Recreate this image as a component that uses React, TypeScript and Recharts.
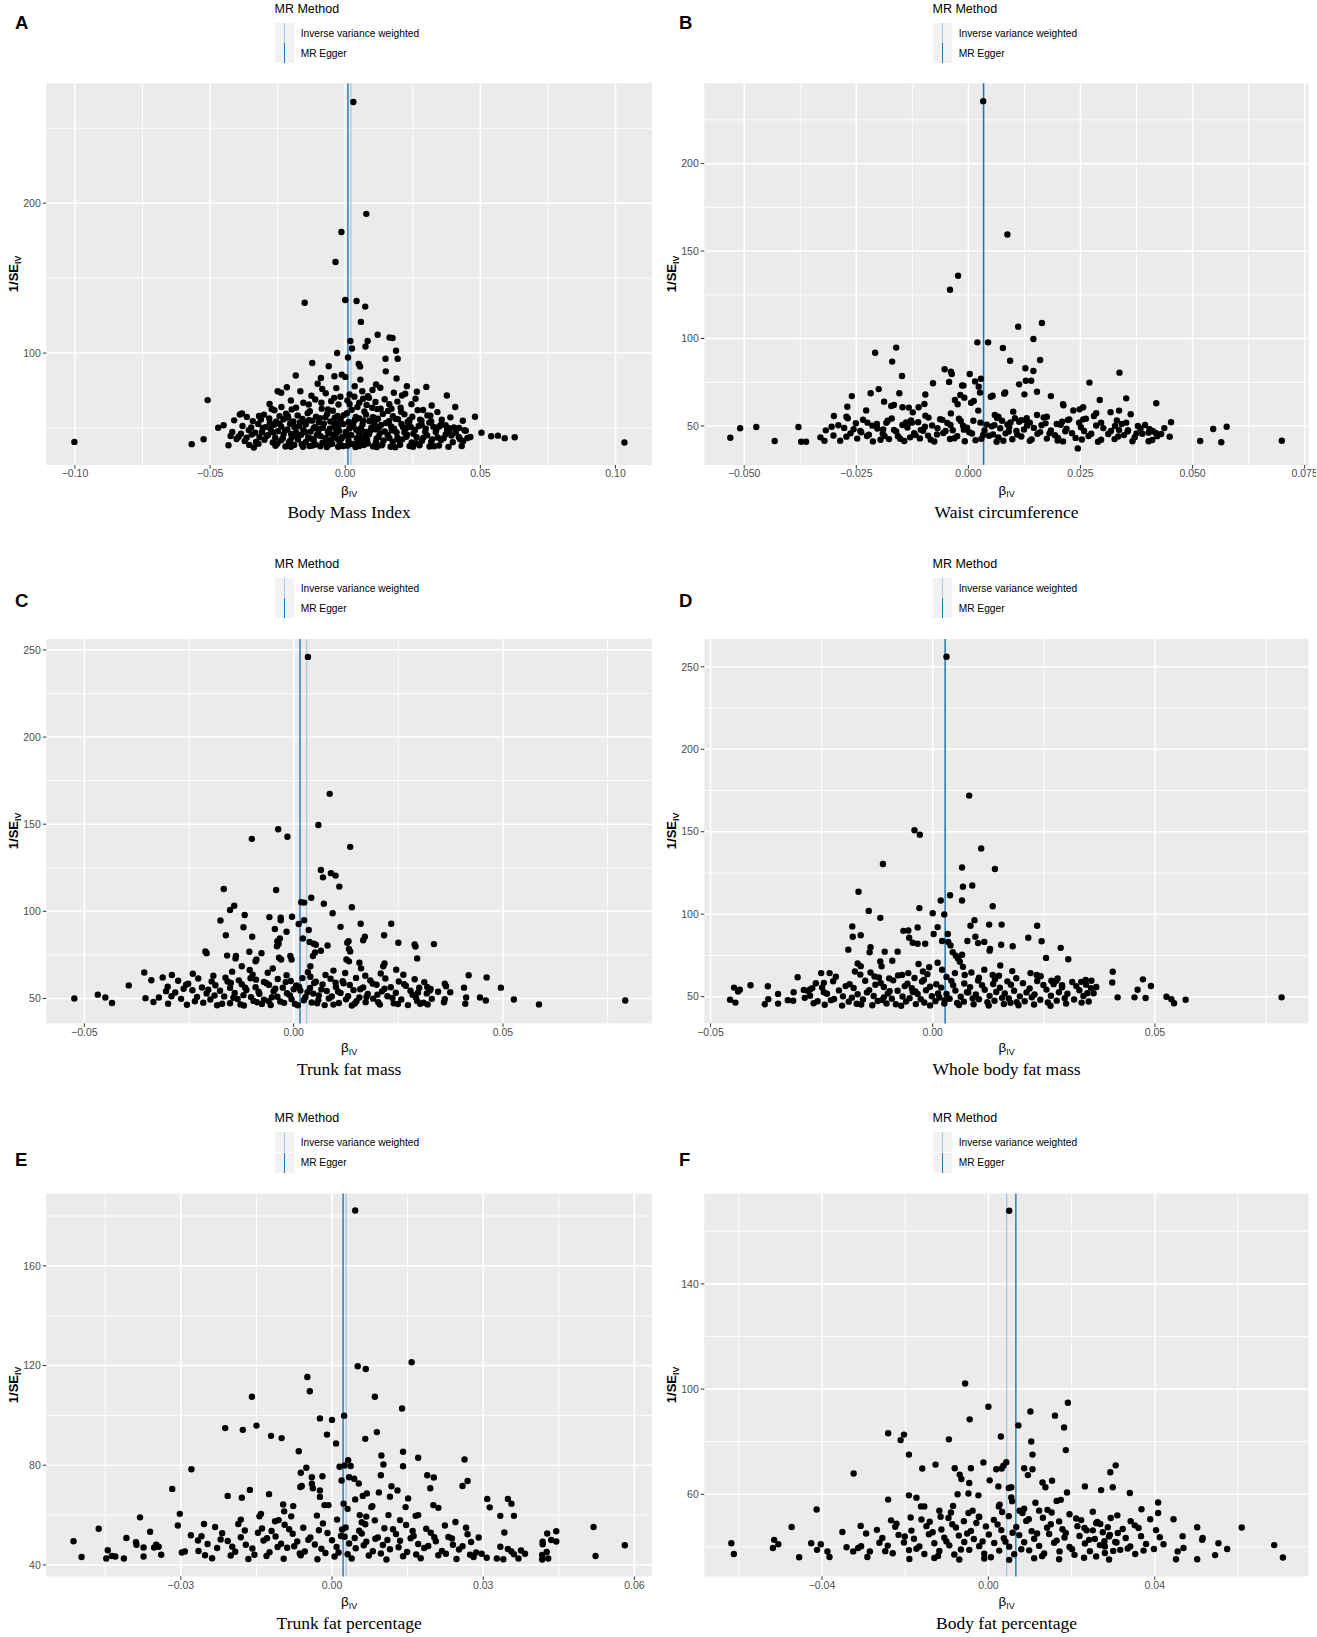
import React from "react";
import {
  CartesianGrid,
  ReferenceLine,
  Scatter,
  ScatterChart,
  XAxis,
  YAxis,
} from "recharts";

type Pt = [number, number];

const panelLetters = ["A", "B", "C", "D", "E", "F"];
const panelTitles = [
  "Body Mass Index",
  "Waist circumference",
  "Trunk fat mass",
  "Whole body fat mass",
  "Trunk fat percentage",
  "Body fat percentage",
];
const methodNames = ["Inverse variance weighted", "MR Egger"];
const methodColors = ["#A6CEE3", "#1F78B4"];

// [IVW, MR Egger] estimates (vertical lines)
const bmiEstimates = [0.0021, 0.001];
const waistEstimates = [0.0033, 0.0034];
const trunkMassEstimates = [0.0031, 0.0015];
const bodyMassEstimates = [0.0028, 0.0028];
const trunkPctEstimates = [0.0028, 0.0022];
const bodyPctEstimates = [0.0044, 0.0066];

// axes
const bmiX = { domain: [-0.1106, 0.1135], ticks: [-0.1, -0.05, 0, 0.05, 0.1], minor: [-0.075, -0.025, 0.025, 0.075] };
const bmiY = { domain: [25.3, 280], ticks: [100, 200], minor: [50, 150, 250] };
const waistX = { domain: [-0.0589, 0.0759], ticks: [-0.05, -0.025, 0, 0.025, 0.05, 0.075], minor: [-0.0375, -0.0125, 0.0125, 0.0375, 0.0625] };
const waistY = { domain: [27.7, 245.9], ticks: [50, 100, 150, 200], minor: [75, 125, 175, 225] };
const trunkMassX = { domain: [-0.0591, 0.0856], ticks: [-0.05, 0, 0.05], minor: [-0.025, 0.025, 0.075] };
const trunkMassY = { domain: [35.7, 256.2], ticks: [50, 100, 150, 200, 250], minor: [75, 125, 175, 225] };
const bodyMassX = { domain: [-0.0514, 0.0846], ticks: [-0.05, 0, 0.05], minor: [-0.025, 0.025, 0.075] };
const bodyMassY = { domain: [33.8, 266.8], ticks: [50, 100, 150, 200, 250], minor: [75, 125, 175, 225] };
const trunkPctX = { domain: [-0.0567, 0.0635], ticks: [-0.03, 0, 0.03, 0.06], minor: [-0.045, -0.015, 0.015, 0.045] };
const trunkPctY = { domain: [35.4, 189], ticks: [40, 80, 120, 160], minor: [60, 100, 140, 180] };
const bodyPctX = { domain: [-0.0683, 0.077], ticks: [-0.04, 0, 0.04], minor: [-0.06, -0.02, 0.02, 0.06] };
const bodyPctY = { domain: [28.8, 174.3], ticks: [60, 100, 140], minor: [40, 80, 120, 160] };
const xDecimals = [2, 3, 2, 2, 2, 2];

// beta_IV, 1/SE_IV
const bmiPoints: Pt[] = [
  [0.003, 267.5], [0.0078, 192.9], [-0.0014, 180.8], [-0.0036, 160.8], [-0.015, 133.6], [0.0, 135.4], [0.0042, 134.7], [0.0074, 131.0],
  [0.0058, 120.8], [0.012, 112.2], [0.0164, 110.4], [0.0175, 110.0], [0.0019, 108.0], [0.0083, 108.0], [0.0025, 103.0], [0.0075, 104.4],
  [0.0188, 101.5], [-0.003, 100.0], [0.001, 97.0], [0.0149, 96.2], [0.0194, 96.2], [-0.0122, 93.4], [0.005, 92.7], [0.0055, 91.0],
  [-0.0061, 91.2], [0.015, 87.8], [-0.0183, 85.0], [-0.009, 83.4], [-0.004, 84.5], [-0.0013, 85.6], [0.0, 84.1], [0.0056, 82.3],
  [0.019, 83.0], [0.0114, 79.0], [0.013, 76.8], [0.0228, 77.9], [0.03, 77.4], [-0.025, 74.5], [-0.0237, 73.5], [-0.0216, 77.2],
  [-0.0166, 74.5], [-0.0085, 76.0], [-0.0033, 76.6], [0.0063, 74.5], [0.0084, 71.2], [0.018, 73.5], [0.0222, 72.8], [0.0376, 71.7],
  [-0.0509, 68.6], [-0.028, 66.0], [0.0407, 64.0], [0.032, 65.0], [0.026, 69.5], [-0.039, 59.0], [-0.0382, 59.7], [0.048, 57.5],
  [-0.047, 50.2], [-0.045, 51.8], [0.0504, 46.9], [0.054, 44.5], [0.0565, 44.9], [0.059, 43.2], [0.0627, 43.8], [-0.1002, 40.7],
  [0.1033, 40.3], [-0.0568, 39.2], [-0.0524, 42.5], [-0.0424, 44.7], [-0.0432, 38.5], [-0.0338, 37.0],
  [-0.0135, 65.7], [-0.0111, 69.0], [-0.0088, 66.8], [-0.0064, 62.4], [-0.0041, 70.1], [-0.0025, 65.7], [0.0016, 72.3], [0.0016, 66.0],
  [0.0045, 64.0], [0.0066, 69.5], [0.0088, 70.1], [0.01, 63.5], [0.0131, 62.8], [0.0171, 62.8], [0.0205, 63.5], [-0.0182, 63.5],
  [-0.0213, 58.0], [-0.0236, 64.0], [-0.0319, 58.0], [0.021, 71.7], [0.0238, 55.3], [0.0282, 54.9], [0.0315, 58.2], [0.0288, 62.0],
  [0.0355, 52.4], [0.0382, 50.0], [0.0421, 50.0], [0.0441, 48.5], [0.0463, 44.0],
  [-0.0155, 66.8], [-0.0125, 71.5], [-0.0072, 73.2], [-0.0052, 67.9], [-0.0018, 70.8], [0.0008, 68.4], [0.0034, 70.9], [0.0052, 66.9],
  [0.0079, 65.4], [0.0112, 67.3], [0.0146, 69.2], [0.0163, 65.8], [0.0193, 67.6], [0.0245, 65.9], [-0.0201, 68.3], [-0.0272, 62.7],
  [0.0035, 77.8], [-0.0102, 79.5], [0.0101, 75.3], [0.0265, 74.2],
  [-0.0262, 61.8], [-0.0198, 62.4], [-0.0131, 61.2], [-0.0087, 62.9], [-0.0046, 61.5], [0.0024, 62.2], [0.0071, 61.0], [0.0118, 62.6],
  [0.0158, 61.4], [0.0207, 60.8], [0.0268, 61.9], [0.0341, 60.6],
  [-0.0364, 57.4], [-0.0301, 58.8], [-0.0243, 57.9], [-0.0219, 59.6], [-0.0176, 58.3], [-0.0139, 59.9], [-0.0108, 57.6], [-0.0067, 59.2],
  [-0.0028, 58.0], [0.0006, 59.8], [0.0039, 57.3], [0.0077, 58.9], [0.0102, 57.2], [0.0139, 59.4], [0.0176, 57.8], [0.0219, 59.1],
  [0.0248, 57.5], [0.0304, 58.4], [0.0389, 57.1],
  [-0.0411, 55.1], [-0.0342, 54.6], [-0.0281, 56.3], [-0.0256, 54.2], [-0.0228, 55.8], [-0.0192, 54.4], [-0.0158, 56.1], [-0.0122, 54.9],
  [-0.0094, 56.6], [-0.0055, 54.3], [-0.0017, 55.9], [0.0013, 54.1], [0.0052, 56.4], [0.0089, 54.7], [0.0121, 56.2], [0.0162, 54.5],
  [0.0195, 55.9], [0.0231, 54.0], [0.0277, 55.6], [0.0318, 54.3], [0.0357, 55.5], [0.0435, 54.8],
  [-0.038, 51.3], [-0.0322, 52.7], [-0.0295, 50.6], [-0.0263, 52.2], [-0.0237, 50.9], [-0.0204, 52.8], [-0.0171, 51.1], [-0.0146, 52.4],
  [-0.0113, 50.5], [-0.0079, 52.9], [-0.0041, 51.2], [-0.0006, 52.6], [0.003, 50.8], [0.0064, 52.3], [0.0097, 50.4], [0.0133, 52.1],
  [0.017, 51.0], [0.0208, 52.7], [0.0243, 50.6], [0.0283, 52.0], [0.0326, 50.9], [0.0371, 51.8], [0.0402, 50.3],
  [-0.0418, 47.3], [-0.0357, 48.6], [-0.0308, 47.4], [-0.0276, 49.4], [-0.0249, 47.8], [-0.0214, 49.1], [-0.0182, 47.2], [-0.0155, 48.9],
  [-0.0128, 47.6], [-0.0097, 49.3], [-0.0064, 47.5], [-0.0033, 49.0], [0.0002, 47.3], [0.0041, 48.8], [0.0074, 47.4], [0.011, 49.2],
  [0.0146, 47.7], [0.0181, 49.5], [0.0219, 47.2], [0.0258, 48.7], [0.0296, 47.5], [0.0337, 49.0], [0.0385, 47.8], [0.0446, 48.2],
  [-0.0395, 44.2], [-0.0346, 45.6], [-0.0317, 43.8], [-0.0286, 45.3], [-0.0259, 43.5], [-0.0228, 45.8], [-0.0197, 44.0], [-0.0163, 45.5],
  [-0.0137, 43.7], [-0.0105, 45.2], [-0.0073, 43.4], [-0.0043, 45.7], [-0.0011, 44.1], [0.0022, 45.4], [0.0056, 43.6], [0.0088, 45.9],
  [0.0123, 44.0], [0.0157, 45.3], [0.0193, 43.5], [0.0229, 45.6], [0.0264, 43.9], [0.0303, 45.1], [0.0342, 43.7], [0.0372, 45.8],
  [0.042, 44.0], [0.0452, 43.3],
  [-0.0372, 41.3], [-0.033, 40.6], [-0.0299, 42.1], [-0.0268, 40.3], [-0.0237, 41.8], [-0.0208, 40.5], [-0.0175, 42.3], [-0.0146, 40.7],
  [-0.0117, 41.9], [-0.0084, 40.2], [-0.0052, 42.0], [-0.0021, 40.6], [0.0012, 41.7], [0.0046, 40.1], [0.0081, 42.2], [0.0113, 40.4],
  [0.0142, 41.6], [0.0176, 40.8], [0.0211, 42.4], [0.0246, 40.3], [0.0284, 41.5], [0.0318, 40.9], [0.0355, 42.0], [0.0398, 40.5],
  [0.0436, 41.2],
  [-0.0258, 38.1], [-0.0221, 37.6], [-0.0189, 38.7], [-0.0156, 37.4], [-0.0121, 38.3], [-0.0092, 37.8], [-0.0059, 38.9], [-0.0026, 37.5],
  [0.0008, 38.2], [0.0038, 37.3], [0.0069, 38.6], [0.0103, 37.7], [0.0135, 38.4], [0.0168, 37.5], [0.0203, 38.8], [0.0238, 37.9],
  [0.0275, 38.5], [0.0312, 37.6], [0.0347, 38.3], [0.0382, 37.4], [0.0431, 38.0],
  [-0.006, 46.3], [-0.0022, 48.1], [0.0015, 49.6], [0.0051, 46.9], [0.003, 53.5], [-0.0035, 53.2], [0.0108, 53.4], [-0.01, 46.4],
  [0.0128, 46.5], [0.006, 41.2], [-0.003, 43.0], [0.019, 47.0], [-0.015, 53.5], [0.0225, 49.8], [-0.02, 46.0],
  [-0.0348, 50.4], [-0.0333, 46.9], [-0.0312, 55.7], [-0.0291, 44.6], [-0.0279, 53.5], [-0.0266, 47.1], [-0.0251, 39.7], [-0.0243, 52.9],
  [-0.0231, 43.1], [-0.0222, 48.4], [-0.0211, 56.9], [-0.0203, 41.6], [-0.0188, 50.7], [-0.0179, 45.1], [-0.0168, 53.7], [-0.0161, 39.2],
  [-0.0149, 47.3], [-0.0134, 55.2], [-0.0126, 42.8], [-0.0117, 49.8], [-0.0109, 38.9], [-0.0098, 53.8], [-0.0091, 44.6], [-0.0083, 50.1],
  [-0.0074, 57.1], [-0.0066, 41.3], [-0.0057, 49.6], [-0.0048, 39.4], [-0.0039, 56.9], [-0.0031, 47.0], [-0.0024, 51.8], [-0.0014, 42.9],
  [-0.0005, 58.6], [0.0004, 45.1], [0.0019, 51.3], [0.0027, 39.3], [0.0036, 55.4], [0.0043, 43.2], [0.0058, 49.9], [0.0066, 54.9],
  [0.0072, 44.4], [0.0083, 39.6], [0.0093, 48.3], [0.0106, 56.9], [0.0116, 42.9], [0.0126, 50.7], [0.0137, 39.1], [0.0151, 53.3],
  [0.0163, 43.3], [0.0172, 48.4], [0.0186, 56.1], [0.0198, 41.9], [0.0214, 50.5], [0.0226, 44.2], [0.0236, 53.1], [0.0252, 46.2],
  [0.0262, 39.8], [0.0272, 51.3], [0.0289, 43.6], [0.0298, 49.6], [0.0311, 53.6], [0.0322, 42.3], [0.0335, 47.3], [0.0348, 51.0],
  [0.0364, 43.2], [0.0377, 49.1], [0.0393, 45.0], [0.0409, 47.0], [0.0425, 42.5], [-0.0386, 46.2], [-0.0402, 42.6], [-0.0365, 43.5],
  [-0.0355, 38.7], [-0.0321, 39.4], [-0.0305, 50.1], [0.0117, 37.3], [0.0052, 37.9], [-0.0008, 38.0], [-0.0068, 37.3], [-0.0132, 37.9],
  [-0.0201, 37.4], [0.0185, 37.2], [0.0251, 37.5], [0.0329, 37.8],
];

const waistPoints: Pt[] = [
  [0.0033, 235.7], [0.0087, 159.5], [-0.0023, 135.9], [-0.0041, 127.9], [0.0164, 108.9], [0.0111, 106.8], [0.0145, 99.7], [0.002, 97.8],
  [0.0044, 97.8], [0.0077, 94.6], [-0.0161, 94.8], [-0.0208, 91.9], [-0.017, 86.8], [0.016, 87.7], [0.0093, 87.3], [-0.0053, 82.4],
  [-0.0039, 81.0], [-0.0037, 79.7], [0.0127, 83.0], [0.0145, 81.4], [0.0337, 80.5], [0.0003, 79.7], [-0.0148, 78.6], [0.0128, 75.9],
  [0.014, 75.9], [0.0028, 77.0], [0.027, 74.8], [-0.0079, 74.4], [0.0015, 75.5], [-0.0043, 75.2], [-0.0014, 73.2], [-0.0011, 73.1],
  [0.0023, 72.5], [0.0113, 73.8], [-0.02, 71.1], [0.0153, 69.6], [-0.0154, 68.7], [0.008, 68.5], [0.0082, 69.2], [0.0125, 68.1],
  [-0.0218, 68.7], [-0.026, 67.1], [-0.0096, 68.0], [-0.0018, 67.7], [0.0054, 67.3], [0.005, 66.7], [0.0184, 67.1], [0.0293, 64.9],
  [0.0352, 65.8], [-0.0188, 63.9], [0.0419, 63.0], [0.0211, 62.5], [0.0212, 61.8], [-0.027, 61.0], [-0.0172, 61.4], [-0.0166, 62.0],
  [-0.0133, 60.5], [0.0336, 58.8], [0.0317, 57.9], [0.0234, 58.9], [0.0248, 59.5], [0.0256, 60.7], [-0.0228, 58.9], [0.0362, 56.7],
  [-0.03, 55.7], [-0.0272, 55.3], [-0.0269, 54.4], [0.0285, 57.3], [0.0244, 37.2], [-0.0531, 43.3], [-0.0509, 48.7], [-0.0473, 49.4],
  [-0.0432, 41.4], [-0.0379, 49.4], [-0.0373, 41.0], [-0.0362, 41.0], [-0.033, 43.5], [0.0517, 41.4], [0.0546, 48.3], [0.0564, 40.7],
  [0.0576, 49.6], [0.0699, 41.6], [0.0452, 52.1], [0.0449, 43.9], [0.0437, 48.8],
  [-0.003, 64.9], [-0.0024, 62.4], [-0.0039, 57.2], [-0.0009, 66.2], [0.0006, 63.3], [0.0012, 64.3], [0.0026, 69.1], [0.0022, 58.8],
  [-0.0111, 60.7], [-0.0124, 57.8], [-0.0098, 62.6], [-0.0096, 55.9], [-0.0147, 60.7], [-0.0126, 51.9], [-0.0204, 51.1], [-0.0225, 51.9],
  [-0.018, 53.0], [0.0059, 56.3], [0.0067, 55.3], [0.0075, 53.0], [0.01, 58.2], [0.0104, 54.4], [0.0113, 52.4], [0.013, 54.4],
  [0.0137, 51.9], [0.0153, 56.3], [0.0175, 55.3], [0.0197, 51.1], [0.0209, 52.4], [0.0225, 53.8], [0.0256, 53.8], [0.028, 55.7],
  [0.0296, 51.9], [0.0327, 50.0], [0.0336, 47.7], [0.0352, 51.9], [0.0355, 46.8], [0.0375, 45.8], [0.0378, 50.0], [0.0402, 46.2],
  [0.0411, 47.1], [0.043, 45.4],
  [-0.0235, 53.6], [-0.0171, 54.3], [-0.0128, 53.2], [-0.0089, 54.8], [-0.0058, 53.5], [-0.0021, 54.1], [0.0011, 53.0], [0.0064, 54.6],
  [0.0118, 53.3], [0.0168, 54.9], [0.0222, 53.4], [0.0262, 54.2], [0.0331, 53.1],
  [-0.029, 50.4], [-0.0251, 51.6], [-0.0214, 50.2], [-0.0183, 51.8], [-0.0147, 50.6], [-0.0112, 52.1], [-0.0081, 50.3], [-0.0047, 51.7],
  [-0.0012, 50.1], [0.0027, 51.9], [0.0058, 50.5], [0.0094, 52.0], [0.0131, 50.2], [0.0172, 51.5], [0.0206, 50.7], [0.0247, 51.9],
  [0.0285, 50.3], [0.0342, 51.2], [0.0394, 50.6],
  [-0.0318, 47.5], [-0.0277, 48.9], [-0.0241, 47.2], [-0.0203, 48.6], [-0.0166, 47.8], [-0.0136, 49.1], [-0.0101, 47.3], [-0.0069, 48.8],
  [-0.0035, 47.6], [-0.0003, 49.0], [0.0036, 47.4], [0.0071, 48.7], [0.0107, 47.2], [0.0146, 48.9], [0.0184, 47.5], [0.0219, 48.4],
  [0.0258, 47.1], [0.0301, 48.8], [0.0356, 47.6], [0.0404, 48.1],
  [-0.0301, 44.6], [-0.0263, 45.8], [-0.0226, 44.3], [-0.0191, 45.6], [-0.0157, 44.1], [-0.0121, 45.9], [-0.009, 44.5], [-0.0056, 46.0],
  [-0.0025, 44.2], [0.0008, 45.7], [0.0046, 44.4], [0.0083, 45.8], [0.0118, 44.0], [0.0154, 45.5], [0.0193, 44.7], [0.0231, 45.9],
  [0.0268, 44.3], [0.0312, 45.4], [0.0347, 44.8], [0.0388, 45.6], [0.0421, 44.2],
  [-0.0286, 41.6], [-0.0248, 42.8], [-0.0213, 41.2], [-0.0177, 42.5], [-0.0143, 41.4], [-0.0108, 42.9], [-0.0076, 41.1], [-0.0041, 42.6],
  [-0.0008, 41.3], [0.0029, 42.7], [0.0063, 41.0], [0.0098, 42.4], [0.0137, 41.5], [0.0175, 42.8], [0.0211, 41.2], [0.0253, 42.3],
  [0.0289, 41.0], [0.0326, 42.5], [0.0366, 41.3], [0.041, 42.0],
  [-0.001, 47.9], [0.0052, 49.8], [-0.013, 43.5], [0.016, 46.5], [0.009, 46.9], [-0.007, 45.2], [0.02, 43.2], [-0.019, 48.0],
  [0.013, 52.8], [-0.004, 50.6],
  [-0.0272, 43.9], [-0.0239, 46.4], [-0.0196, 42.1], [-0.0161, 46.9], [-0.0139, 52.0], [-0.0118, 44.8], [-0.0097, 49.6], [-0.0084, 42.2],
  [-0.0063, 53.9], [-0.0051, 47.1], [-0.0031, 43.0], [-0.0017, 52.9], [0.0002, 46.4], [0.0016, 41.9], [0.0041, 50.8], [0.0055, 45.2],
  [0.0078, 41.6], [0.0087, 50.9], [0.0109, 45.1], [0.0124, 48.0], [0.0141, 42.3], [0.0163, 50.4], [0.0181, 45.8], [0.0199, 41.7],
  [0.0216, 47.0], [0.0239, 43.2], [0.0251, 49.3], [0.0274, 45.6], [0.0296, 42.1], [0.0318, 47.1], [0.0334, 44.0], [0.0371, 43.6],
  [0.0384, 48.6], [0.0402, 41.3], [0.0418, 46.0], [-0.0305, 49.6], [-0.0321, 41.5], [-0.0256, 48.1], [-0.0187, 44.3], [-0.0152, 42.7],
  [0.0067, 43.5], [0.0091, 49.4], [0.0033, 44.9], [-0.0106, 47.8], [-0.0222, 45.0],
];

const trunkMassPoints: Pt[] = [
  [0.0034, 246.0], [0.0086, 167.4], [0.0059, 149.5], [-0.0037, 147.1], [-0.0015, 142.8], [-0.01, 141.6], [0.0135, 137.0], [0.0065, 123.7],
  [0.0089, 121.9], [0.01, 120.5], [0.007, 119.5], [0.0109, 114.2], [-0.0167, 112.8], [-0.0042, 112.2], [0.0042, 107.8], [0.0018, 105.2],
  [0.0025, 105.0], [0.0072, 104.4], [-0.0142, 103.2], [-0.0152, 100.8], [0.0139, 102.4], [0.0093, 98.9], [-0.0117, 97.9], [-0.0175, 94.7],
  [-0.0058, 96.7], [-0.0031, 96.3], [-0.0031, 94.9], [-0.0004, 96.9], [0.0012, 92.7], [0.0025, 94.9], [0.016, 92.9], [0.0233, 92.9],
  [0.0112, 91.1], [-0.012, 90.9], [-0.0045, 89.9], [-0.0017, 88.3], [0.0036, 89.3], [-0.0162, 86.3], [-0.0099, 85.4], [0.0216, 86.3],
  [0.017, 85.4], [0.0166, 83.4], [-0.0039, 82.8], [-0.0036, 81.4], [-0.0033, 84.4], [-0.004, 80.0], [0.0022, 84.4], [0.0038, 82.4],
  [0.0048, 81.4], [0.0053, 80.8], [0.0131, 82.8], [0.0128, 82.0], [0.0335, 81.2], [0.025, 82.0], [0.0289, 81.0], [0.0291, 79.8],
  [0.0081, 80.4], [0.0065, 77.4], [0.0051, 76.4], [0.0046, 74.4], [0.0132, 78.4], [0.0135, 77.0], [-0.0211, 77.0], [-0.0208, 76.0],
  [-0.0106, 76.8], [-0.0077, 76.0], [-0.0089, 72.4], [-0.0091, 71.4], [0.0295, 73.0], [-0.0159, 74.6], [-0.0138, 74.4], [-0.0139, 73.0],
  [-0.0008, 74.4], [-0.0005, 72.4], [-0.0035, 73.4], [-0.003, 72.4], [0.0126, 72.4], [0.0132, 71.3], [0.0157, 70.5], [0.0161, 67.3],
  [0.0217, 70.1], [0.0214, 68.5], [0.0245, 66.5], [-0.0124, 68.5],
  [-0.0357, 64.9], [-0.034, 60.5], [-0.0313, 62.1], [-0.0291, 63.5], [-0.0394, 57.5], [-0.0524, 50.0], [-0.0468, 52.2], [-0.045, 50.6],
  [-0.0434, 47.4], [-0.0354, 50.2], [-0.0335, 48.0], [-0.0322, 50.6], [-0.0305, 54.2], [-0.03, 47.0], [0.0418, 63.3], [0.0461, 62.1],
  [0.0495, 56.2], [0.0526, 49.4], [0.0586, 46.6], [0.0792, 48.8], [0.0407, 56.2], [0.0412, 50.6], [0.041, 47.0], [0.0445, 50.6],
  [0.0459, 48.8], [0.0361, 58.5], [0.0364, 57.0], [0.0374, 53.6], [0.0361, 49.6], [0.0359, 47.8], [0.0319, 56.6], [0.0325, 54.6],
  [0.032, 46.6], [0.0302, 47.0], [0.0295, 48.6],
  [-0.0241, 64.2], [-0.0192, 63.1], [-0.0147, 65.4], [-0.0098, 63.7], [-0.0062, 64.8], [-0.0017, 63.3], [0.0034, 65.1], [0.0076, 63.5],
  [0.0123, 64.6], [0.0171, 63.0], [0.0208, 64.3], [0.0262, 63.6],
  [-0.0276, 60.2], [-0.0228, 61.5], [-0.0196, 59.8], [-0.0163, 61.9], [-0.0131, 60.4], [-0.0103, 61.6], [-0.0071, 59.5], [-0.0038, 61.2],
  [-0.0007, 60.0], [0.0021, 61.7], [0.0053, 59.6], [0.0088, 61.3], [0.0117, 59.9], [0.0149, 61.8], [0.0183, 60.3], [0.0219, 61.5],
  [0.0251, 59.7], [0.0289, 61.0], [0.0312, 59.4],
  [-0.0301, 56.8], [-0.0257, 57.9], [-0.0219, 56.3], [-0.0187, 57.6], [-0.0152, 56.1], [-0.0124, 58.2], [-0.0091, 56.5], [-0.0059, 57.8],
  [-0.0026, 56.2], [0.0006, 57.5], [0.0039, 56.0], [0.0069, 58.1], [0.0101, 56.6], [0.0134, 57.7], [0.0166, 56.3], [0.0198, 57.9],
  [0.0232, 56.4], [0.0268, 57.3], [0.03, 56.2],
  [-0.0283, 53.4], [-0.0242, 54.7], [-0.0208, 52.9], [-0.0176, 54.4], [-0.0141, 53.1], [-0.0113, 54.9], [-0.0082, 52.7], [-0.0048, 54.2],
  [-0.0016, 53.0], [0.0016, 54.6], [0.0047, 52.8], [0.0079, 54.3], [0.0112, 53.2], [0.0143, 54.8], [0.0177, 52.6], [0.0211, 54.1],
  [0.0244, 53.3], [0.0279, 54.5], [0.0318, 52.9], [0.0345, 53.9],
  [-0.0269, 49.8], [-0.0231, 50.9], [-0.0199, 49.4], [-0.0166, 51.2], [-0.0134, 49.7], [-0.0102, 50.8], [-0.0071, 49.3], [-0.0039, 51.0],
  [-0.0005, 49.6], [0.0028, 50.7], [0.0059, 49.2], [0.0091, 51.1], [0.0125, 49.5], [0.0157, 50.6], [0.019, 49.9], [0.0224, 51.3],
  [0.0257, 49.4], [0.0292, 50.5], [0.033, 49.8],
  [-0.0255, 46.4], [-0.0216, 47.6], [-0.0183, 46.1], [-0.0152, 47.3], [-0.0119, 46.0], [-0.0088, 47.8], [-0.0055, 46.3], [-0.0023, 47.5],
  [0.001, 46.1], [0.0043, 47.7], [0.0074, 46.2], [0.0108, 47.4], [0.0139, 46.0], [0.0172, 47.9], [0.0206, 46.5], [0.0239, 47.2],
  [0.0273, 46.2], [0.031, 47.6],
  [-0.006, 48.5], [0.0, 55.3], [0.006, 51.8], [-0.012, 51.9], [0.01, 59.0], [-0.009, 60.8], [0.015, 48.4], [0.004, 62.5],
  [-0.015, 58.9], [0.02, 52.2],
  [-0.0252, 58.5], [-0.0236, 48.4], [-0.0204, 55.0], [-0.0189, 51.7], [-0.0171, 47.0], [-0.0158, 59.7], [-0.0144, 50.4], [-0.0127, 46.6],
  [-0.0116, 56.2], [-0.0096, 48.6], [-0.0084, 53.9], [-0.0076, 46.9], [-0.0065, 58.8], [-0.0052, 50.7], [-0.0044, 55.6], [-0.0032, 48.3],
  [-0.0019, 59.4], [-0.0009, 51.8], [0.0003, 46.8], [0.0013, 56.6], [0.0024, 49.0], [0.0033, 53.6], [0.0049, 58.9], [0.0056, 47.3],
  [0.0066, 55.2], [0.0084, 50.0], [0.0095, 46.5], [0.0106, 54.0], [0.0119, 58.7], [0.013, 51.3], [0.0146, 47.1], [0.0159, 55.3],
  [0.0174, 50.9], [0.0189, 58.5], [0.0202, 47.8], [0.0217, 55.6], [0.0236, 50.3], [0.0249, 46.8], [0.0264, 58.2], [0.0284, 52.1],
  [-0.0292, 51.3], [-0.0263, 55.6], [0.0297, 53.4], [0.0327, 55.4], [0.004, 68.5], [-0.005, 67.2], [0.0095, 66.0], [-0.0105, 66.4],
];

const bodyMassPoints: Pt[] = [
  [0.0031, 256.1], [0.0082, 171.9], [-0.0041, 150.9], [-0.0029, 148.2], [0.0109, 139.8], [-0.0112, 130.4], [0.0066, 128.3], [0.014, 127.4],
  [0.0089, 117.4], [0.0068, 116.7], [-0.0167, 113.6], [0.0039, 111.5], [0.0066, 108.3], [0.0018, 108.3], [0.0135, 104.8], [-0.003, 103.7],
  [-0.0144, 102.0], [-0.0118, 97.8], [0.0, 100.6], [0.0026, 99.9], [0.0235, 93.0], [0.0155, 93.7], [0.0127, 93.7], [-0.0181, 92.6],
  [-0.0034, 92.0], [0.0011, 92.2], [0.0085, 93.0], [0.0094, 96.4], [-0.0066, 89.9], [-0.0055, 90.1], [0.0002, 88.0], [0.0034, 88.0],
  [-0.018, 86.3], [-0.0162, 87.3], [-0.0053, 85.7], [0.0096, 86.3], [0.0102, 82.5], [0.0116, 83.2], [0.0078, 83.8], [0.0215, 85.7],
  [0.0245, 83.6], [0.0021, 83.8], [0.0035, 83.2], [0.004, 81.1], [-0.0045, 82.7], [-0.0034, 82.1], [-0.0017, 82.1], [-0.014, 80.0],
  [-0.0142, 76.9], [0.0154, 81.5], [0.018, 80.6], [-0.019, 78.5], [0.0288, 79.6], [0.0129, 79.0], [0.0128, 77.9], [-0.0108, 77.3],
  [-0.0079, 77.3], [0.0045, 76.9], [0.0052, 74.8], [0.0057, 73.1], [0.0066, 75.4], [0.0255, 73.5], [0.0305, 72.7], [-0.0091, 71.8],
  [-0.0118, 71.4], [-0.0169, 70.1], [-0.0162, 68.5], [-0.0175, 65.3], [0.0405, 65.1], [0.0404, 58.6], [0.0473, 60.5], [0.0461, 54.2],
  [0.0491, 56.5], [0.0479, 49.2], [0.0416, 49.6], [0.0454, 49.6], [0.0526, 50.0], [0.0537, 48.5], [0.0543, 46.0], [0.0569, 48.1],
  [0.0785, 49.6], [-0.0456, 48.1], [-0.0447, 55.5], [-0.0444, 46.4], [-0.0438, 53.1], [-0.0434, 54.2], [-0.041, 56.9], [-0.0378, 45.4],
  [-0.0371, 56.3], [-0.037, 48.5], [-0.0348, 51.7], [-0.0348, 45.8], [-0.0326, 47.9], [-0.0314, 47.5], [-0.0313, 52.7], [-0.0304, 61.8],
  [-0.0281, 53.4], [-0.0276, 54.4], [-0.0271, 55.2], [-0.0251, 64.3], [-0.0232, 64.3], [-0.0245, 58.4],
  [0.022, 64.3], [0.0234, 63.2], [0.0267, 59.7], [0.0278, 59.7], [0.0291, 56.9], [0.0334, 59.0], [0.0344, 60.1], [0.0357, 59.7],
  [0.0368, 55.9], [0.0362, 52.1], [0.0011, 70.6], [-0.0008, 67.8], [-0.0022, 65.3], [-0.0069, 63.2], [-0.0055, 64.3], [-0.0098, 61.1],
  [-0.014, 64.7], [-0.0131, 62.2], [0.0068, 68.1], [0.0087, 64.7], [0.0116, 66.4], [0.0135, 63.2],
  [-0.0218, 62.1], [-0.0163, 63.4], [-0.0121, 61.7], [-0.0078, 62.9], [-0.0041, 61.3], [-0.0012, 63.6], [0.0031, 62.0], [0.0072, 63.1],
  [0.0104, 61.5], [0.0149, 62.7], [0.0188, 61.2], [0.0243, 62.4], [0.0281, 61.0],
  [-0.0263, 58.1], [-0.0224, 59.4], [-0.0187, 57.6], [-0.0152, 59.7], [-0.0117, 58.3], [-0.0089, 59.9], [-0.0057, 57.8], [-0.0024, 59.2],
  [0.0008, 57.5], [0.0042, 59.6], [0.0071, 58.0], [0.0102, 59.8], [0.0136, 57.7], [0.0168, 59.3], [0.0203, 58.2], [0.0235, 59.5],
  [0.0272, 57.6], [0.0314, 58.9], [0.0345, 57.3],
  [-0.029, 54.1], [-0.0249, 55.6], [-0.0211, 53.8], [-0.0178, 55.3], [-0.0143, 54.0], [-0.011, 55.9], [-0.0079, 53.6], [-0.0047, 55.1],
  [-0.0015, 53.9], [0.0019, 55.5], [0.0051, 53.7], [0.0084, 55.8], [0.0117, 54.2], [0.0151, 55.4], [0.0183, 53.6], [0.0218, 55.0],
  [0.0256, 54.3], [0.0291, 55.7], [0.033, 53.9], [0.0356, 55.2],
  [-0.0276, 50.6], [-0.0238, 51.8], [-0.0202, 50.2], [-0.0169, 51.5], [-0.0133, 50.4], [-0.0101, 51.9], [-0.0068, 50.1], [-0.0034, 51.6],
  [-0.0002, 50.3], [0.0031, 51.7], [0.0063, 50.0], [0.0097, 51.4], [0.0128, 50.5], [0.0162, 51.9], [0.0196, 50.2], [0.0229, 51.3],
  [0.0266, 50.6], [0.0303, 51.8], [0.0339, 50.4],
  [-0.0259, 47.2], [-0.0222, 48.6], [-0.0189, 47.0], [-0.0157, 48.3], [-0.0124, 47.4], [-0.0092, 48.8], [-0.006, 47.1], [-0.0027, 48.5],
  [0.0006, 47.3], [0.0038, 48.7], [0.007, 47.0], [0.0104, 48.4], [0.0139, 47.5], [0.0171, 48.9], [0.0207, 47.2], [0.0242, 48.1],
  [0.0279, 47.6], [0.0318, 48.3], [0.0351, 47.1],
  [-0.0243, 45.1], [-0.0204, 44.6], [-0.0171, 45.7], [-0.0136, 44.8], [-0.0104, 45.9], [-0.0071, 44.5], [-0.0038, 45.5], [-0.0006, 44.7],
  [0.0026, 45.8], [0.0059, 44.9], [0.0092, 45.4], [0.0126, 44.6], [0.016, 45.6], [0.0193, 44.8], [0.0228, 45.3], [0.0265, 44.5],
  [0.03, 45.8],
  [0.0015, 49.5], [-0.0045, 52.8], [0.008, 52.6], [-0.011, 49.6], [0.014, 60.6], [-0.002, 60.2], [0.005, 64.3], [0.0175, 46.3],
  [-0.0268, 46.0], [-0.0245, 52.7], [-0.0229, 47.9], [-0.0196, 56.4], [-0.0182, 49.4], [-0.0161, 45.3], [-0.0148, 52.6], [-0.0129, 57.2],
  [-0.0114, 48.0], [-0.0097, 53.3], [-0.0083, 45.4], [-0.0063, 56.4], [-0.0052, 49.1], [-0.0039, 53.1], [-0.0019, 46.5], [-0.0006, 56.0],
  [0.0012, 51.9], [0.0027, 47.9], [0.0046, 57.0], [0.0055, 46.2], [0.0077, 52.7], [0.009, 49.0], [0.0111, 57.0], [0.0123, 46.7],
  [0.0143, 52.8], [0.0156, 49.3], [0.0176, 57.2], [0.0189, 46.7], [0.0211, 52.6], [0.0223, 49.7], [0.0249, 57.1], [0.0259, 46.5],
  [0.0284, 52.7], [0.0297, 49.1], [0.0323, 56.4], [0.0335, 46.4], [0.0348, 52.1], [-0.0288, 49.3], [0.0021, 66.3], [-0.0032, 69.8],
  [0.0061, 71.2], [0.0152, 68.9], [-0.0115, 68.4], [0.0179, 65.5],
];

const trunkPctPoints: Pt[] = [
  [0.0046, 182.2], [0.0158, 121.3], [0.0051, 119.7], [0.0067, 118.6], [-0.0049, 115.4], [-0.0044, 109.7], [-0.0159, 107.5], [0.0085, 107.5],
  [0.0139, 102.8], [0.0024, 99.9], [-0.0024, 98.8], [0.0, 98.2], [-0.0212, 94.9], [-0.015, 95.9], [-0.0177, 94.2], [0.0089, 93.3],
  [-0.001, 92.3], [-0.0121, 91.8], [-0.01, 90.9], [0.0066, 90.6], [0.0008, 88.7], [-0.0066, 85.6], [0.0141, 85.4], [0.0098, 83.9],
  [0.0171, 83.0], [0.0263, 82.3], [0.0032, 82.0], [0.0037, 79.7], [0.0025, 79.9], [0.0102, 80.3], [0.0141, 79.6], [0.0015, 79.4],
  [-0.0051, 79.0], [-0.0062, 77.0], [-0.0279, 78.4], [0.0189, 76.0], [0.0202, 75.1], [0.0097, 76.0], [-0.004, 75.2], [-0.004, 72.6],
  [-0.0038, 70.8], [-0.0019, 75.6], [0.0034, 75.2], [0.0044, 74.6], [0.0053, 72.7], [0.0019, 73.9], [0.0269, 73.7], [0.0259, 71.7],
  [-0.006, 71.7], [-0.0063, 71.3], [0.0118, 71.6], [0.013, 69.9], [-0.0317, 70.5], [-0.0163, 70.1], [-0.0024, 69.9], [-0.0024, 67.3],
  [0.0195, 70.8], [0.0069, 68.7], [0.0061, 67.7], [0.0046, 66.3], [0.0093, 69.1], [-0.0207, 67.7], [-0.0179, 67.0], [-0.0125, 68.4],
  [0.0115, 67.4], [0.0151, 66.7], [0.0308, 66.5], [0.0313, 63.1], [0.0349, 66.5], [0.0356, 64.6], [-0.0097, 64.3], [-0.0077, 63.6],
  [-0.0095, 61.5], [-0.0015, 64.0], [-0.0007, 64.0], [0.0023, 64.6], [0.008, 63.6], [0.0078, 63.2], [0.0031, 62.5], [0.0201, 64.0],
  [0.0211, 62.9], [0.0146, 63.2], [-0.0302, 60.5], [-0.0306, 55.8], [-0.0381, 59.1], [-0.0141, 60.5], [-0.0144, 59.5], [-0.0081, 59.5],
  [-0.0106, 58.0], [-0.0113, 57.5], [0.0055, 60.0], [0.0068, 59.4], [0.0059, 57.1], [0.0112, 60.0], [0.0166, 59.7], [0.0171, 60.0],
  [0.0334, 59.7], [0.0361, 59.7], [-0.028, 51.9], [-0.0254, 56.4], [-0.0463, 54.5], [-0.0361, 53.3], [-0.0513, 49.5], [-0.0497, 43.2],
  [-0.0448, 42.6], [-0.0445, 45.9], [-0.0437, 43.6], [-0.043, 43.4], [-0.0413, 42.6], [-0.0408, 50.8], [-0.0389, 49.1], [-0.0388, 48.1],
  [-0.0374, 47.0], [-0.0374, 43.4], [-0.0353, 47.0], [-0.0349, 48.1], [-0.0344, 47.3], [-0.0339, 44.1], [-0.0298, 45.0], [-0.0292, 45.4],
  [0.0519, 55.2], [0.0523, 43.6], [0.0581, 47.9], [0.0418, 48.3], [0.0418, 49.3], [0.0417, 44.0], [0.0417, 42.2], [0.0426, 45.2],
  [0.0429, 42.6], [0.0427, 52.6], [0.0435, 50.0], [0.0445, 53.5], [0.0445, 49.4], [0.0297, 44.5], [0.0307, 42.9], [0.0327, 42.6],
  [0.0334, 47.3], [0.0342, 53.0], [0.034, 42.3], [0.0349, 46.4], [0.0356, 45.4], [0.0361, 44.3], [0.037, 42.6], [0.0375, 45.8],
  [0.0383, 44.5],
  [-0.0232, 55.2], [-0.0186, 56.4], [-0.0139, 54.6], [-0.0094, 56.1], [-0.0057, 54.9], [-0.0018, 56.6], [0.0027, 55.0], [0.0066, 56.3],
  [0.0104, 54.7], [0.0147, 56.0], [0.0187, 54.5], [0.0224, 55.8], [0.0266, 54.9],
  [-0.0259, 51.5], [-0.0218, 52.7], [-0.0181, 51.1], [-0.0147, 52.9], [-0.0112, 51.4], [-0.0078, 52.5], [-0.0043, 51.0], [-0.0009, 52.8],
  [0.0025, 51.3], [0.0059, 52.6], [0.0091, 51.0], [0.0127, 52.4], [0.0162, 51.6], [0.0196, 52.9], [0.0231, 51.2], [0.0269, 52.3],
  [0.0291, 51.0],
  [-0.0247, 48.4], [-0.0207, 49.6], [-0.0171, 48.1], [-0.0136, 49.8], [-0.0101, 48.5], [-0.0069, 49.4], [-0.0034, 48.2], [0.0, 49.9],
  [0.0034, 48.6], [0.0068, 49.3], [0.0101, 48.0], [0.0135, 49.7], [0.0171, 48.4], [0.0206, 49.5], [0.024, 48.1], [0.0276, 49.2],
  [-0.0265, 45.6], [-0.0228, 46.8], [-0.0192, 45.3], [-0.0158, 46.6], [-0.0124, 45.1], [-0.0089, 46.9], [-0.0054, 45.4], [-0.0021, 46.5],
  [0.0013, 45.0], [0.0047, 46.7], [0.0081, 45.5], [0.0115, 46.3], [0.0149, 45.2], [0.0183, 46.8], [0.0218, 45.6], [0.0252, 46.2],
  [0.0286, 45.0],
  [-0.0238, 42.7], [-0.0201, 43.8], [-0.0166, 42.4], [-0.013, 43.6], [-0.0096, 42.5], [-0.0062, 43.9], [-0.0029, 42.3], [0.0005, 43.4],
  [0.0039, 42.6], [0.0073, 43.8], [0.0108, 42.2], [0.0141, 43.5], [0.0176, 42.7], [0.0211, 43.9], [0.0247, 42.4], [0.0281, 43.2],
  [0.0045, 50.8], [-0.0075, 47.5], [0.011, 50.0], [0.002, 54.2], [-0.012, 53.6], [0.016, 53.6],
  [-0.0221, 50.2], [-0.0198, 47.3], [-0.0173, 53.8], [-0.0154, 44.1], [-0.0129, 50.7], [-0.0108, 47.2], [-0.0085, 54.3], [-0.0064, 44.6],
  [-0.0047, 50.1], [-0.0026, 53.9], [-0.0013, 44.8], [0.0009, 47.2], [0.0018, 51.6], [0.0031, 44.3], [0.0054, 53.7], [0.0063, 47.9],
  [0.0086, 50.5], [0.0097, 44.6], [0.0121, 54.3], [0.0132, 47.1], [0.0156, 50.7], [0.0167, 44.2], [0.0191, 47.6], [0.0203, 51.1],
  [0.0226, 44.5], [0.0238, 50.6], [0.0259, 47.5], [0.0274, 44.1], [-0.0252, 43.9], [-0.0266, 49.8], [-0.003, 59.8], [0.001, 58.2],
  [0.0135, 58.0], [-0.0181, 58.2], [0.0245, 57.2], [0.0085, 57.9],
];

const bodyPctPoints: Pt[] = [
  [0.005, 167.8], [-0.0056, 102.1], [0.0, 93.3], [0.0191, 94.8], [0.0101, 91.5], [0.016, 89.9], [-0.0045, 88.5], [0.0072, 86.2],
  [0.0182, 85.4], [-0.0241, 83.2], [-0.0203, 82.7], [0.003, 82.0], [-0.0211, 80.6], [-0.0095, 80.9], [0.0103, 80.1], [0.0186, 76.8],
  [-0.0191, 75.1], [0.0106, 75.1], [-0.0012, 72.1], [-0.0127, 71.3], [0.0043, 72.2], [0.0036, 70.9], [0.0019, 69.5], [0.0032, 69.8],
  [0.0306, 71.0], [-0.0159, 69.8], [-0.0081, 69.9], [-0.0042, 69.9], [0.0086, 69.9], [0.0106, 69.5], [0.0293, 68.4], [-0.0324, 67.9],
  [-0.0069, 67.5], [-0.0065, 65.8], [0.0095, 67.3], [0.0003, 65.3], [-0.0046, 64.3], [0.013, 64.5], [0.0137, 62.7], [0.0153, 65.2],
  [0.0232, 63.0], [0.0024, 63.0], [0.0049, 62.4], [0.0055, 62.7], [0.0271, 61.6], [0.0299, 62.7], [0.0189, 60.7], [0.034, 60.5],
  [-0.0074, 60.0], [-0.0048, 60.3], [-0.0024, 59.6], [-0.0191, 59.6], [-0.0173, 58.7], [-0.0241, 58.0], [0.0055, 58.8], [0.0057, 57.4],
  [0.0027, 56.1], [0.0025, 55.4], [0.0174, 57.9], [0.0164, 57.5], [0.0113, 56.8], [-0.0162, 55.4], [-0.0154, 55.4], [-0.0413, 54.2],
  [0.0368, 54.3], [0.0408, 56.9], [0.0408, 52.9], [0.0445, 50.5], [0.0075, 53.8], [0.0086, 54.5], [0.0082, 52.9], [-0.0118, 53.8],
  [-0.0115, 51.5], [-0.009, 53.1], [-0.0048, 52.9], [-0.0038, 53.8], [-0.0023, 51.5], [0.0122, 53.8], [0.0142, 54.1], [0.0152, 53.1],
  [0.0251, 53.4],
  [-0.0618, 41.4], [-0.0612, 37.3], [-0.0518, 39.6], [-0.0515, 42.7], [-0.0505, 41.0], [-0.0473, 47.6], [-0.0455, 36.1], [-0.0426, 41.4],
  [-0.0412, 38.9], [-0.0403, 41.0], [-0.0387, 38.3], [-0.0382, 36.2], [-0.0351, 45.7], [-0.0341, 39.9], [-0.0325, 38.3], [-0.0313, 39.6],
  [-0.0306, 40.3], [-0.0294, 45.1], [-0.0291, 36.2], [-0.0285, 38.3], [-0.0307, 48.0],
  [0.0502, 47.5], [0.0515, 43.4], [0.0514, 42.7], [0.0467, 44.1], [0.0469, 39.6], [0.0455, 38.3], [0.0451, 35.3], [0.0502, 35.3],
  [0.0545, 36.9], [0.0553, 41.4], [0.0574, 39.2], [0.0609, 47.4], [0.0687, 40.7], [0.0708, 36.0],
  [0.0259, 49.0], [0.0269, 48.7], [0.0275, 45.6], [0.0231, 47.2], [0.0236, 46.3], [0.029, 44.0], [0.028, 40.2], [0.03, 38.5],
  [0.0308, 41.7],
  [-0.0234, 50.1], [-0.0187, 51.2], [-0.0141, 49.6], [-0.0096, 51.0], [-0.0059, 49.8], [-0.0022, 51.4], [0.0013, 50.3], [0.0049, 51.7],
  [0.0091, 49.9], [0.0131, 51.1], [0.017, 49.7], [0.0211, 50.8], [0.0262, 49.5], [0.0294, 51.0], [0.0342, 49.8], [0.0389, 50.5],
  [-0.0268, 46.5], [-0.0224, 47.7], [-0.0185, 46.2], [-0.0149, 47.9], [-0.0113, 46.6], [-0.0078, 47.4], [-0.0042, 46.1], [-0.0006, 47.8],
  [0.0031, 46.4], [0.0067, 47.6], [0.0104, 46.0], [0.0141, 47.3], [0.0178, 46.7], [0.0214, 47.9], [0.0251, 46.3], [0.0287, 47.5],
  [0.0323, 46.8], [0.0361, 47.2], [0.0403, 46.4],
  [-0.0255, 43.4], [-0.0216, 44.6], [-0.0179, 43.1], [-0.0143, 44.8], [-0.0106, 43.5], [-0.0071, 44.3], [-0.0035, 43.0], [0.0001, 44.7],
  [0.0037, 43.3], [0.0074, 44.5], [0.011, 43.1], [0.0146, 44.9], [0.0183, 43.6], [0.0219, 44.2], [0.0256, 43.0], [0.0292, 44.6],
  [0.033, 43.4], [0.0367, 44.1], [0.0412, 43.7],
  [-0.0242, 40.5], [-0.0203, 41.7], [-0.0166, 40.2], [-0.013, 41.4], [-0.0094, 40.6], [-0.0058, 41.9], [-0.0022, 40.3], [0.0014, 41.5],
  [0.005, 40.1], [0.0086, 41.8], [0.0122, 40.4], [0.0158, 41.6], [0.0195, 40.0], [0.0232, 41.3], [0.0268, 40.7], [0.0305, 41.9],
  [0.0341, 40.2], [0.0379, 41.1],
  [-0.023, 37.6], [-0.0191, 38.8], [-0.0154, 37.3], [-0.0118, 38.5], [-0.0082, 37.1], [-0.0046, 38.9], [-0.001, 37.4], [0.0026, 38.6],
  [0.0062, 37.2], [0.0098, 38.7], [0.0134, 37.5], [0.0171, 38.3], [0.0207, 37.0], [0.0244, 38.4], [0.028, 37.7], [0.0317, 38.9],
  [0.0353, 37.3],
  [-0.019, 35.4], [-0.013, 35.8], [-0.007, 35.2], [-0.001, 35.6], [0.005, 35.1], [0.011, 35.7], [0.017, 35.3], [0.023, 35.9],
  [0.029, 35.2],
  [-0.0221, 48.8], [-0.0201, 44.0], [-0.0173, 39.3], [-0.0161, 50.4], [-0.0134, 45.6], [-0.0121, 36.6], [-0.0101, 42.1], [-0.0087, 48.6],
  [-0.0066, 39.0], [-0.0051, 45.1], [-0.0029, 49.1], [-0.0014, 42.1], [0.0006, 36.1], [0.0022, 48.5], [0.0041, 42.0], [0.0058, 45.4],
  [0.0079, 39.1], [0.0097, 50.5], [0.0117, 45.1], [0.0129, 36.5], [0.015, 48.6], [0.0164, 42.4], [0.0186, 45.3], [0.0201, 39.1],
  [0.0223, 50.2], [0.0242, 42.7], [0.0259, 36.4], [0.0279, 42.2], [0.0311, 45.3], [0.0335, 39.4], [0.0352, 48.2], [0.0373, 38.6],
  [0.0398, 39.2], [0.0421, 41.0], [-0.0262, 41.6], [-0.0248, 38.4], [0.0033, 53.3], [-0.0085, 55.6], [0.0195, 52.4], [0.031, 52.0],
];

const panels = [
  { points: bmiPoints, x: bmiX, y: bmiY, est: bmiEstimates },
  { points: waistPoints, x: waistX, y: waistY, est: waistEstimates },
  { points: trunkMassPoints, x: trunkMassX, y: trunkMassY, est: trunkMassEstimates },
  { points: bodyMassPoints, x: bodyMassX, y: bodyMassY, est: bodyMassEstimates },
  { points: trunkPctPoints, x: trunkPctX, y: trunkPctY, est: trunkPctEstimates },
  { points: bodyPctPoints, x: bodyPctX, y: bodyPctY, est: bodyPctEstimates },
].map((p, i) => ({ ...p, letter: panelLetters[i], title: panelTitles[i], decimals: xDecimals[i] }));

const SANS = '"Liberation Sans", Arial, Helvetica, sans-serif';
const SERIF = '"Liberation Serif", "Times New Roman", serif';
const CELL_W = 658;
const CELL_H = 554;
const PLOT_LEFT = 46.3;
const X_AXIS_H = 22;
const colLeft = [0, 658];
const colPlotRight = [652, 650.7];
const colLetterX = [15, 21];
const rowTop = [0, 554.5, 1109];
const rowPlot = [
  { top: 83.3, bottom: 465 },
  { top: 84.1, bottom: 468.4 },
  { top: 84.6, bottom: 467.4 },
];
const rowLetterY = [23.3, 46, 51.4];

const fmt = (dec: number) => (v: number) =>
  (v < 0 ? "\u2212" : "") + Math.abs(v).toFixed(dec);

const Dot = (props: any) => (
  <circle cx={props.cx} cy={props.cy} r={3.2} fill="#000000" />
);

const sub = { fontSize: "0.66em", position: "relative" as const, top: "0.3em" };

function MethodLegend() {
  return (
    <div style={{ position: "absolute", left: 274.5, top: 0 }}>
      <div style={{ position: "absolute", left: 0, top: 1.5, fontSize: 12.5, lineHeight: "15px", whiteSpace: "nowrap" }}>
        MR Method
      </div>
      {methodNames.map((m, i) => (
        <React.Fragment key={m}>
          <div style={{ position: "absolute", left: 0, top: 22.7 + i * 20.3, width: 19.3, height: 20.3, background: "#F2F2F2" }}>
            <div style={{ position: "absolute", left: 9, top: 0, width: 1.4, height: "100%", background: methodColors[i] }} />
          </div>
          <div style={{ position: "absolute", left: 26.2, top: 26.8 + i * 20, fontSize: 10.2, lineHeight: "13px", whiteSpace: "nowrap" }}>
            {m}
          </div>
        </React.Fragment>
      ))}
    </div>
  );
}

function FunnelPanel({ p, col, row }: { p: (typeof panels)[number]; col: number; row: number }) {
  const { top, bottom } = rowPlot[row];
  const right = colPlotRight[col];
  const cx = (PLOT_LEFT + right) / 2;
  const cy = (top + bottom) / 2;
  const data = p.points.map(([x, y]) => ({ x, y }));
  const tickStyle = { fill: "#4D4D4D", fontSize: 10.5, fontFamily: SANS };

  return (
    <div style={{ position: "absolute", left: colLeft[col], top: rowTop[row], width: CELL_W, height: CELL_H }}>
      <ScatterChart
        width={CELL_W}
        height={CELL_H}
        margin={{ top, right: CELL_W - right, bottom: CELL_H - bottom - X_AXIS_H, left: 0 }}
      >
        <CartesianGrid
          fill="#EBEBEB"
          stroke="#FFFFFF"
          strokeWidth={0.9}
          horizontalValues={p.y.minor}
          verticalValues={p.x.minor}
        />
        <CartesianGrid
          fill="none"
          stroke="#FFFFFF"
          strokeWidth={1.6}
          horizontalValues={p.y.ticks}
          verticalValues={p.x.ticks}
        />
        <XAxis
          type="number"
          dataKey="x"
          domain={p.x.domain}
          ticks={p.x.ticks}
          allowDataOverflow
          interval={0}
          height={X_AXIS_H}
          axisLine={false}
          tickLine={{ stroke: "#333333" }}
          tickSize={3.5}
          tickMargin={1.5}
          tick={tickStyle}
          tickFormatter={fmt(p.decimals)}
        />
        <YAxis
          type="number"
          dataKey="y"
          domain={p.y.domain}
          ticks={p.y.ticks}
          allowDataOverflow
          interval={0}
          width={PLOT_LEFT}
          axisLine={false}
          tickLine={{ stroke: "#333333" }}
          tickSize={3.5}
          tickMargin={2}
          tick={tickStyle}
        />
        <Scatter data={data} shape={Dot} isAnimationActive={false} />
        {p.est.map((v, i) => (
          <ReferenceLine key={i} x={v} stroke={methodColors[i]} strokeWidth={1.4} />
        ))}
      </ScatterChart>

      <div style={{ position: "absolute", left: colLetterX[col], top: rowLetterY[row] - 11, fontSize: 18.5, fontWeight: 700, lineHeight: "22px" }}>
        {p.letter}
      </div>
      <div style={{ position: "absolute", left: 0, top: row === 0 ? 0 : 0.5, width: CELL_W, height: 80 }}>
        <MethodLegend />
      </div>
      <div
        style={{
          position: "absolute",
          left: 13.5 - 40,
          top: cy - 9,
          width: 80,
          height: 18,
          lineHeight: "18px",
          textAlign: "center",
          transform: "rotate(-90deg)",
          fontSize: 13,
          fontWeight: 700,
          whiteSpace: "nowrap",
        }}
      >
        1/SE<span style={sub}>IV</span>
      </div>
      <div
        style={{
          position: "absolute",
          left: cx - 50,
          top: bottom + 26.5 - 10,
          width: 100,
          textAlign: "center",
          fontSize: 13.5,
          lineHeight: "18px",
        }}
      >
        β<span style={sub}>IV</span>
      </div>
      <div
        style={{
          position: "absolute",
          left: cx - 160,
          top: bottom + 46.5 - 11,
          width: 320,
          textAlign: "center",
          fontFamily: SERIF,
          fontSize: 17.5,
          lineHeight: "22px",
        }}
      >
        {p.title}
      </div>
    </div>
  );
}

export default function App() {
  return (
    <div
      style={{
        position: "absolute",
        left: 0,
        top: 0,
        width: 1317,
        height: 1637,
        overflow: "hidden",
        background: "#FFFFFF",
        fontFamily: SANS,
        color: "#000000",
      }}
    >
      {panels.map((p, i) => (
        <FunnelPanel key={p.letter} p={p} col={i % 2} row={Math.floor(i / 2)} />
      ))}
    </div>
  );
}
